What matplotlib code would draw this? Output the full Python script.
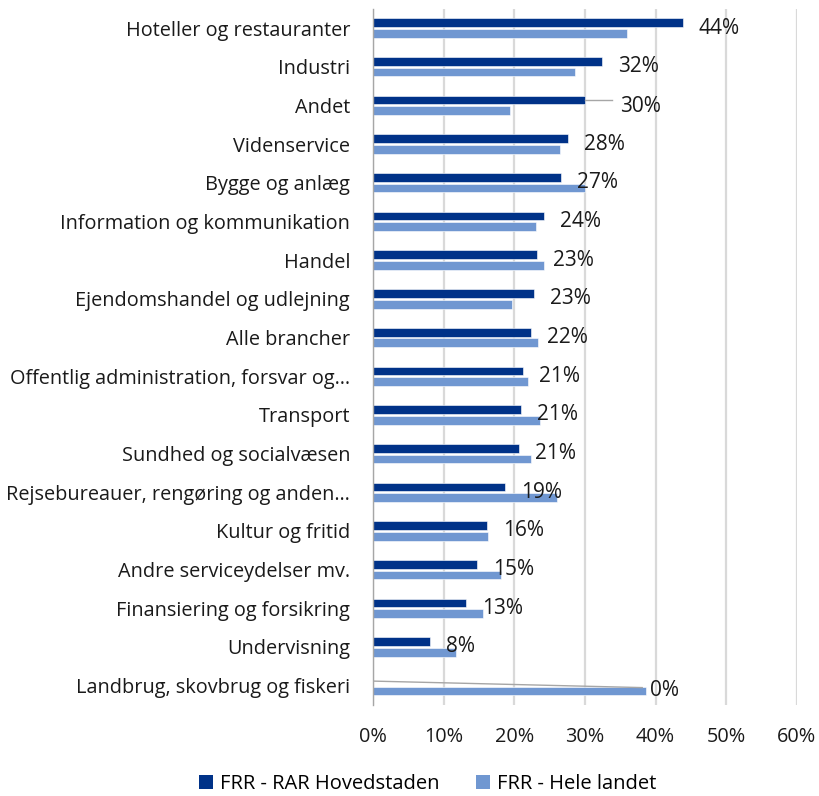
import matplotlib

matplotlib.use("Agg")
import matplotlib.pyplot as plt
import numpy as np
from matplotlib.patches import Patch

# === Data ===
categories = [
    "Hoteller og restauranter",
    "Industri",
    "Andet",
    "Videnservice",
    "Bygge og anlæg",
    "Information og kommunikation",
    "Handel",
    "Ejendomshandel og udlejning",
    "Alle brancher",
    "Offentlig administration, forsvar og…",
    "Transport",
    "Sundhed og socialvæsen",
    "Rejsebureauer, rengøring og anden…",
    "Kultur og fritid",
    "Andre serviceydelser mv.",
    "Finansiering og forsikring",
    "Undervisning",
    "Landbrug, skovbrug og fiskeri",
]
hovedstaden = [0.438, 0.324, 0.300, 0.276, 0.266, 0.242, 0.232, 0.228, 0.223,
               0.212, 0.209, 0.206, 0.187, 0.162, 0.147, 0.131, 0.080, 0.0]
hele_landet = [0.359, 0.286, 0.194, 0.264, 0.300, 0.231, 0.242, 0.197, 0.234,
               0.219, 0.236, 0.223, 0.260, 0.163, 0.181, 0.156, 0.117, 0.387]
series_names = ["FRR - RAR Hovedstaden", "FRR - Hele landet"]
xticks = [0.0, 0.1, 0.2, 0.3, 0.4, 0.5, 0.6]

DARK = "#003288"
LIGHT = "#7097D1"
TXT = "#1a1a1a"
plt.rcParams["font.family"] = ["Open Sans", "DejaVu Sans"]

fig = plt.figure(figsize=(8.2, 7.96), dpi=100)
ax = fig.add_axes([373 / 820, 91 / 796, 424 / 820, 696.3 / 796])

y = np.arange(len(categories))
off = 0.138
h = 0.225
ax.barh(y - off, hovedstaden, height=h, color=DARK, edgecolor="white", linewidth=0.4, zorder=3)
ax.barh(y + off, hele_landet, height=h, color=LIGHT, edgecolor="white", linewidth=0.4, zorder=3)

# data labels on the dark series (two of them pulled out with leader lines)
for i, v in enumerate(hovedstaden):
    if categories[i] == "Andet":
        ax.plot([v, 0.338], [i - off, i - off], color="#a6a6a6", lw=1, zorder=4)
        ax.text(0.349, i + 0.02, f"{v:.0%}", va="center", ha="left", fontsize=15, color=TXT, zorder=5)
    elif v == 0:
        ax.plot([0, 0.381], [i - off + 0.02, i + 0.05], color="#a6a6a6", lw=1, zorder=4)
        ax.text(0.392, i + 0.12, f"{v:.0%}", va="center", ha="left", fontsize=15, color=TXT, zorder=5)
    else:
        ax.text(v + 0.0227, i, f"{v:.0%}", va="center", ha="left", fontsize=15, color=TXT, zorder=5)

ax.set_ylim(len(categories) - 0.5, -0.5)
ax.set_xlim(0, 0.6)
ax.set_yticks(y)
ax.set_yticklabels(categories, fontsize=14.3, color=TXT)
ax.set_xticks(xticks)
ax.set_xticklabels([f"{t:.0%}" for t in xticks], fontsize=14.3, color=TXT)
ax.tick_params(axis="both", length=0)
ax.tick_params(axis="y", pad=16.5)
ax.tick_params(axis="x", pad=16)
ax.grid(axis="x", color="#d9d9d9", linewidth=1.6, zorder=0)
for side in ["top", "right", "bottom"]:
    ax.spines[side].set_visible(False)
ax.spines["left"].set_color("#a6a6a6")
ax.spines["left"].set_linewidth(1)
ax.spines["left"].set_zorder(4)

handles = [Patch(facecolor=DARK, label=series_names[0]), Patch(facecolor=LIGHT, label=series_names[1])]
fig.legend(handles=handles, loc="center", bbox_to_anchor=(428 / 820, 12 / 796), ncol=2,
           frameon=False, fontsize=14.5, handlelength=0.7, handleheight=0.7,
           handletextpad=0.35, columnspacing=1.8)

fig.savefig("out.png", dpi=100)
